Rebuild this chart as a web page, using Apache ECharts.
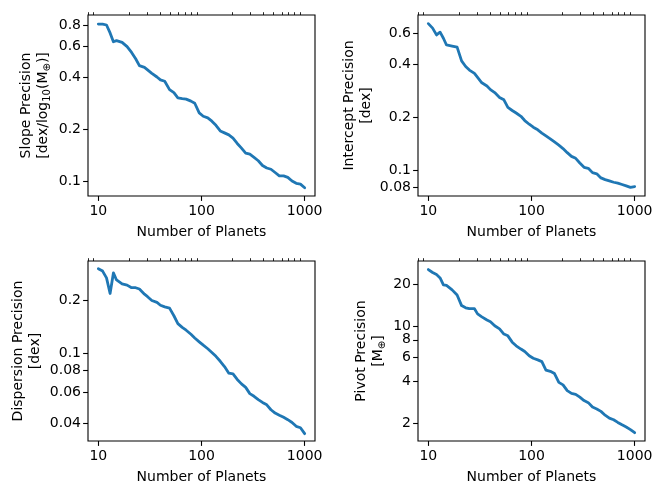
<!DOCTYPE html>
<html>
<head>
<meta charset="utf-8">
<script src="https://cdn.jsdelivr.net/npm/echarts@6/dist/echarts.min.js"></script>
<style>html,body{margin:0;padding:0;background:#fff;}#c{width:664px;height:497px;}</style>
</head>
<body>
<div id="c"></div>
<script>
const N = [10, 11, 12, 13, 14, 15, 17, 19, 21, 23, 25, 28, 30, 33, 37, 40, 44, 49, 54, 59, 65, 71, 79, 86, 95, 104, 115, 126, 138, 152, 167, 184, 202, 222, 244, 268, 294, 323, 355, 390, 429, 471, 517, 568, 625, 686, 754, 828, 910, 1000];
const slope = [0.81, 0.81, 0.80, 0.72, 0.64, 0.65, 0.635, 0.60, 0.555, 0.51, 0.465, 0.455, 0.44, 0.42, 0.40, 0.385, 0.378, 0.338, 0.325, 0.303, 0.30, 0.298, 0.29, 0.282, 0.248, 0.237, 0.232, 0.222, 0.21, 0.195, 0.19, 0.185, 0.177, 0.165, 0.155, 0.145, 0.143, 0.137, 0.131, 0.123, 0.119, 0.117, 0.112, 0.107, 0.107, 0.105, 0.1, 0.097, 0.096, 0.0914];
const intercept = [0.684, 0.645, 0.59, 0.612, 0.565, 0.517, 0.51, 0.503, 0.42, 0.39, 0.372, 0.356, 0.338, 0.315, 0.302, 0.288, 0.277, 0.26, 0.252, 0.228, 0.219, 0.212, 0.203, 0.192, 0.183, 0.176, 0.17, 0.163, 0.157, 0.151, 0.145, 0.139, 0.133, 0.126, 0.12, 0.117, 0.11, 0.104, 0.1027, 0.097, 0.0955, 0.0905, 0.0885, 0.087, 0.0855, 0.0845, 0.083, 0.0815, 0.08, 0.0808];
const dispersion = [0.301, 0.292, 0.267, 0.218, 0.285, 0.26, 0.247, 0.243, 0.235, 0.235, 0.231, 0.216, 0.209, 0.199, 0.194, 0.187, 0.183, 0.18, 0.163, 0.147, 0.14, 0.135, 0.128, 0.122, 0.116, 0.111, 0.106, 0.101, 0.096, 0.09, 0.084, 0.077, 0.0763, 0.071, 0.067, 0.064, 0.059, 0.057, 0.0546, 0.0526, 0.051, 0.0478, 0.0458, 0.0445, 0.0433, 0.042, 0.0405, 0.0385, 0.0378, 0.035];
const pivot = [25.6, 24.4, 23.6, 22.3, 19.9, 19.7, 18.3, 16.8, 14.1, 13.6, 13.4, 13.4, 12.3, 11.7, 11.1, 10.8, 10.1, 9.6, 8.8, 8.55, 7.7, 7.25, 6.87, 6.6, 6.15, 5.9, 5.74, 5.58, 4.85, 4.75, 4.58, 3.96, 3.8, 3.45, 3.3, 3.25, 3.1, 2.93, 2.83, 2.63, 2.55, 2.45, 2.3, 2.19, 2.13, 2.04, 1.96, 1.89, 1.81, 1.72];

const xTicks = [10, 100, 1000];
const xMinorTicks = [8, 9, 20, 30, 40, 50, 60, 70, 80, 90, 200, 300, 400, 500, 600, 700, 800, 900];
const slopeTicks = [0.1, 0.2, 0.4, 0.6, 0.8];
const interceptTicks = [0.08, 0.1, 0.2, 0.4, 0.6];
const dispersionTicks = [0.04, 0.06, 0.08, 0.1, 0.2];
const pivotTicks = [2, 4, 6, 8, 10, 20];

const xLabel = 'Number of Planets';
const yLabels = [
  '{a|Slope Precision}\n{a|[dex/log}{s|10}{a|(M}{s|⊕}{a|)]}',
  '{a|Intercept Precision}\n{a|[dex]}',
  '{a|Dispersion Precision}\n{a|[dex]}',
  '{a|Pivot Precision}\n{a|[M}{s|⊕}{a|]}'
];

const FONT = 'DejaVu Sans';
const FS = 14;
const panels = [
  {grid: {left: 88, top: 15, width: 227, height: 181}, y: slope, ticks: slopeTicks, ymin: 0.0819, ymax: 0.914, gap: 36},
  {grid: {left: 418, top: 15, width: 227, height: 181}, y: intercept, ticks: interceptTicks, ymin: 0.0714, ymax: 0.766, gap: 43.5},
  {grid: {left: 88, top: 261, width: 227, height: 180}, y: dispersion, ticks: dispersionTicks, ymin: 0.0318, ymax: 0.333, gap: 44},
  {grid: {left: 418, top: 261, width: 227, height: 180}, y: pivot, ticks: pivotTicks, ymin: 1.5, ymax: 29.5, gap: 31}
];

const fmt = v => String(+(+v).toPrecision(6));
const grids = [], xAxes = [], yAxes = [], series = [];
panels.forEach((p, i) => {
  grids.push(Object.assign({show: true, borderColor: '#000', borderWidth: 1.1, backgroundColor: 'transparent', containLabel: false, outerBoundsMode: 'none'}, p.grid));
  xAxes.push({
    type: 'log', gridIndex: i, min: 7.94, max: 1259, logBase: 10,
    name: xLabel, nameLocation: 'middle', nameGap: 29,
    nameTextStyle: {fontFamily: FONT, fontSize: FS, color: '#000'},
    axisLine: {show: false},
    axisTick: {show: true, length: 4.9, inside: false, lineStyle: {color: '#000', width: 1.1}, customValues: xTicks},
    axisLabel: {show: true, customValues: xTicks, formatter: fmt, margin: 8, fontFamily: FONT, fontSize: FS, color: '#000'},
    splitLine: {show: false}, minorTick: {show: false}
  });
  xAxes.push({
    type: 'log', gridIndex: i, min: 7.94, max: 1259, logBase: 10,
    axisLine: {show: false},
    axisTick: {show: true, length: 2.8, inside: false, lineStyle: {color: '#000', width: 0.85}, customValues: xMinorTicks},
    axisLabel: {show: false},
    splitLine: {show: false}
  });
  yAxes.push({
    type: 'log', gridIndex: i, min: p.ymin, max: p.ymax, logBase: 10,
    name: yLabels[i], nameLocation: 'middle', nameGap: p.gap, nameRotate: 90,
    nameTextStyle: {fontFamily: FONT, fontSize: FS, color: '#000', align: 'center',
      rich: {a: {fontFamily: FONT, fontSize: FS, color: '#000', lineHeight: 17},
             s: {fontFamily: FONT, fontSize: 10, color: '#000', lineHeight: 17, verticalAlign: 'bottom'}}},
    axisLine: {show: false},
    axisTick: {show: true, length: 4.9, inside: false, lineStyle: {color: '#000', width: 1.1}, customValues: p.ticks},
    axisLabel: {show: true, customValues: p.ticks, formatter: fmt, margin: 7, fontFamily: FONT, fontSize: FS, color: '#000'},
    splitLine: {show: false}
  });
  series.push({
    type: 'line', xAxisIndex: 2 * i, yAxisIndex: i,
    data: N.map((n, k) => [n, p.y[k]]),
    symbol: 'none', smooth: false,
    lineStyle: {color: '#1f77b4', width: 2.8, join: 'round', cap: 'round'},
    itemStyle: {color: '#1f77b4'}
  });
});

const chart = echarts.init(document.getElementById('c'), null, {renderer: 'canvas'});
chart.setOption({animation: false, backgroundColor: '#fff', grid: grids, xAxis: xAxes, yAxis: yAxes, series: series});
</script>
</body>
</html>
